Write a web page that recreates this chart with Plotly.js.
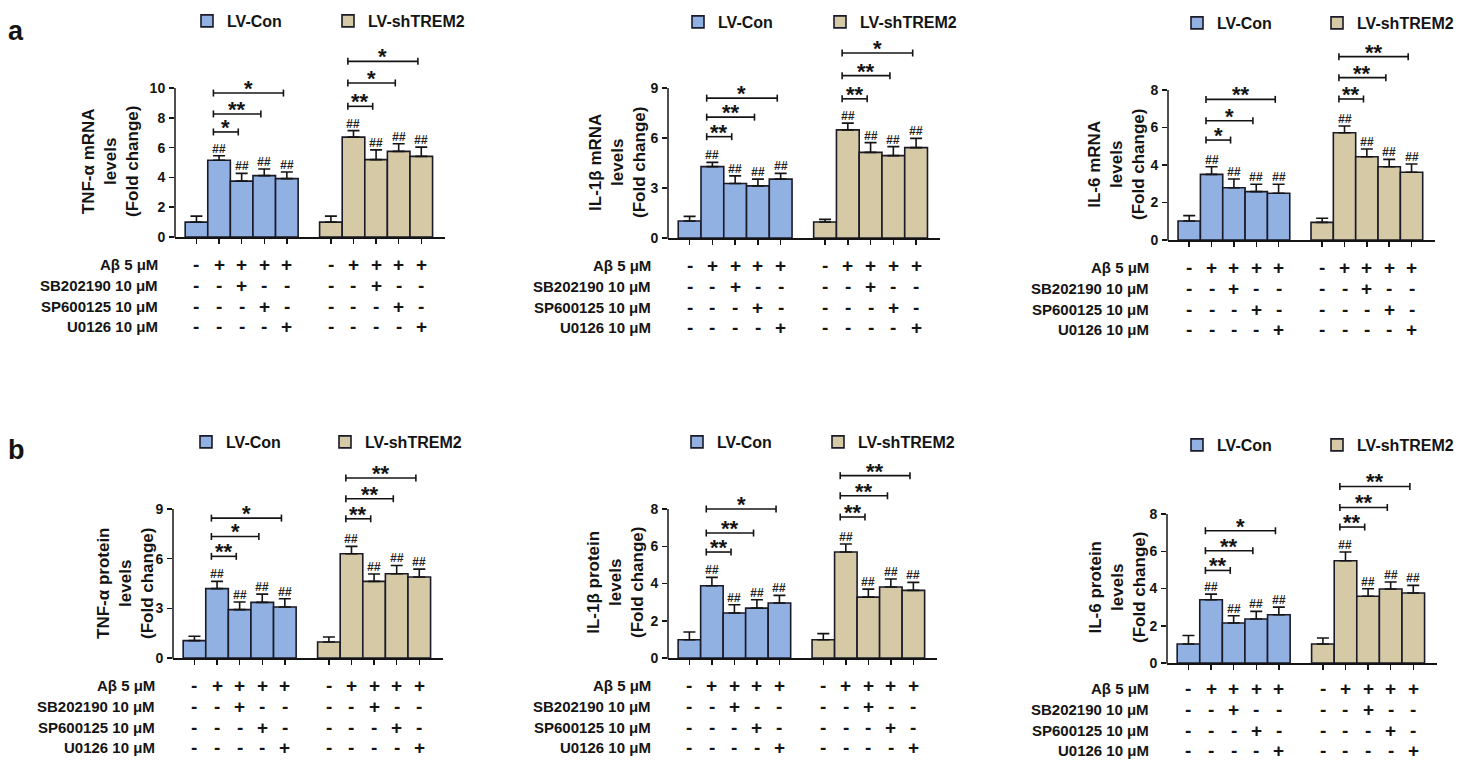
<!DOCTYPE html>
<html><head><meta charset="utf-8">
<script src="https://cdn.plot.ly/plotly-3.0.1.min.js"></script>
<style>html,body{margin:0;padding:0;background:#fff}#chart{width:1481px;height:761px}</style>
</head><body><div id="chart"></div>
<script>
// ---------------- DATA ----------------
const groupNames = ['LV-Con', 'LV-shTREM2'];
const treatmentLabels = ['Aβ 5 μM', 'SB202190 10 μM', 'SP600125 10 μM', 'U0126 10 μM'];
const signAbeta    = ['-', '+', '+', '+', '+'];
const signSB202190 = ['-', '-', '+', '-', '-'];
const signSP600125 = ['-', '-', '-', '+', '-'];
const signU0126    = ['-', '-', '-', '-', '+'];
const hashMarks    = ['', '##', '##', '##', '##'];

const yTitles = [
  'TNF-α mRNA<br>levels<br>(Fold change)',
  'IL-1β mRNA<br>levels<br>(Fold change)',
  'IL-6 mRNA<br>levels<br>(Fold change)',
  'TNF-α protein<br>levels<br>(Fold change)',
  'IL-1β protein<br>levels<br>(Fold change)',
  'IL-6 protein<br>levels<br>(Fold change)'
];
const yTickMax  = [10, 9, 8, 9, 8, 8];
const yTickStep = [2, 3, 2, 3, 2, 2];

// means and SEM (fold change)
const tnfMrnaCon    = [1.00, 5.15, 3.75, 4.12, 3.92];
const tnfMrnaConErr = [0.40, 0.30, 0.52, 0.44, 0.44];
const tnfMrnaSh     = [1.00, 6.70, 5.19, 5.75, 5.41];
const tnfMrnaShErr  = [0.40, 0.44, 0.66, 0.51, 0.62];

const il1bMrnaCon    = [1.02, 4.28, 3.27, 3.13, 3.53];
const il1bMrnaConErr = [0.28, 0.26, 0.46, 0.40, 0.35];
const il1bMrnaSh     = [0.96, 6.49, 5.14, 4.94, 5.42];
const il1bMrnaShErr  = [0.16, 0.40, 0.58, 0.54, 0.56];

const il6MrnaCon    = [1.01, 3.50, 2.79, 2.58, 2.49];
const il6MrnaConErr = [0.29, 0.41, 0.46, 0.39, 0.48];
const il6MrnaSh     = [0.94, 5.72, 4.44, 3.91, 3.61];
const il6MrnaShErr  = [0.22, 0.36, 0.41, 0.39, 0.44];

const tnfProtCon    = [1.05, 4.19, 2.92, 3.36, 3.08];
const tnfProtConErr = [0.26, 0.44, 0.46, 0.50, 0.50];
const tnfProtSh     = [0.97, 6.30, 4.63, 5.09, 4.89];
const tnfProtShErr  = [0.30, 0.44, 0.44, 0.50, 0.48];

const il1bProtCon    = [0.98, 3.88, 2.42, 2.68, 2.95];
const il1bProtConErr = [0.42, 0.45, 0.44, 0.45, 0.41];
const il1bProtSh     = [0.98, 5.69, 3.27, 3.81, 3.63];
const il1bProtShErr  = [0.33, 0.43, 0.43, 0.43, 0.43];

const il6ProtCon    = [1.02, 3.40, 2.15, 2.36, 2.59];
const il6ProtConErr = [0.46, 0.30, 0.39, 0.41, 0.41];
const il6ProtSh     = [1.02, 5.49, 3.58, 3.97, 3.76];
const il6ProtShErr  = [0.32, 0.47, 0.41, 0.38, 0.41];

// significance brackets: from bar index 1 (Aβ alone) to bars 2,3,4
const bracketFrom = 1;
const bracketTo   = [2, 3, 4];
const tnfMrnaConSigY = [7.05, 8.26, 9.66];  const tnfMrnaConSig = ['*', '**', '*'];
const tnfMrnaShSigY  = [8.77, 10.34, 11.79]; const tnfMrnaShSig  = ['**', '*', '*'];
const il1bMrnaConSigY = [6.08, 7.25, 8.39]; const il1bMrnaConSig = ['**', '**', '*'];
const il1bMrnaShSigY  = [8.35, 9.74, 11.10]; const il1bMrnaShSig = ['**', '**', '*'];
const il6MrnaConSigY = [5.33, 6.36, 7.50];  const il6MrnaConSig = ['*', '*', '**'];
const il6MrnaShSigY  = [7.52, 8.66, 9.78];  const il6MrnaShSig  = ['**', '**', '**'];
const tnfProtConSigY = [6.14, 7.34, 8.45];  const tnfProtConSig = ['**', '*', '*'];
const tnfProtShSigY  = [8.41, 9.62, 10.87]; const tnfProtShSig  = ['**', '**', '**'];
const il1bProtConSigY = [5.69, 6.71, 8.00]; const il1bProtConSig = ['**', '**', '*'];
const il1bProtShSigY  = [7.57, 8.71, 9.79]; const il1bProtShSig  = ['**', '**', '**'];
const il6ProtConSigY = [4.97, 6.03, 7.10];  const il6ProtConSig = ['**', '**', '*'];
const il6ProtShSigY  = [7.30, 8.35, 9.48];  const il6ProtShSig  = ['**', '**', '**'];

const panelLetters = ['a', 'b'];

// ---------------- BUILD ----------------
const W = 1481, H = 761;
const FONT = 'Arial, "Liberation Sans", sans-serif';
const INK = '#141414';
const EDGE = '#1a1a28';
const colCon = '#91b1e3', colSh = '#d5c9a6';
const GROUP_SHIFT = 5.95;

const panels = [
  {con: tnfMrnaCon, conErr: tnfMrnaConErr, sh: tnfMrnaSh, shErr: tnfMrnaShErr,
   conSigY: tnfMrnaConSigY, conSig: tnfMrnaConSig, shSigY: tnfMrnaShSigY, shSig: tnfMrnaShSig},
  {con: il1bMrnaCon, conErr: il1bMrnaConErr, sh: il1bMrnaSh, shErr: il1bMrnaShErr,
   conSigY: il1bMrnaConSigY, conSig: il1bMrnaConSig, shSigY: il1bMrnaShSigY, shSig: il1bMrnaShSig},
  {con: il6MrnaCon, conErr: il6MrnaConErr, sh: il6MrnaSh, shErr: il6MrnaShErr,
   conSigY: il6MrnaConSigY, conSig: il6MrnaConSig, shSigY: il6MrnaShSigY, shSig: il6MrnaShSig},
  {con: tnfProtCon, conErr: tnfProtConErr, sh: tnfProtSh, shErr: tnfProtShErr,
   conSigY: tnfProtConSigY, conSig: tnfProtConSig, shSigY: tnfProtShSigY, shSig: tnfProtShSig},
  {con: il1bProtCon, conErr: il1bProtConErr, sh: il1bProtSh, shErr: il1bProtShErr,
   conSigY: il1bProtConSigY, conSig: il1bProtConSig, shSigY: il1bProtShSigY, shSig: il1bProtShSig},
  {con: il6ProtCon, conErr: il6ProtConErr, sh: il6ProtSh, shErr: il6ProtShErr,
   conSigY: il6ProtConSigY, conSig: il6ProtConSig, shSigY: il6ProtShSigY, shSig: il6ProtShSig}
];

// layout geometry in pixels (styles only)
const geom = [
  {xl: 175, xr: 445, y0: 237, yt: 88,  top: 40,  lab: 160, tx: -65, legCon: 187, legSh: 328, legY: 21, tbl: 237},
  {xl: 668, xr: 940, y0: 238, yt: 88,  top: 40,  lab: 653, tx: -51, legCon: 678, legSh: 820, legY: 22, tbl: 238},
  {xl: 1168, xr: 1435, y0: 240, yt: 90, top: 40, lab: 1151, tx: -51, legCon: 1177, legSh: 1317, legY: 23, tbl: 240},
  {xl: 173, xr: 443, y0: 658, yt: 509, top: 455, lab: 157, tx: -48, legCon: 186, legSh: 325, legY: 442, tbl: 658},
  {xl: 668, xr: 937, y0: 658, yt: 509, top: 455, lab: 653, tx: -53, legCon: 677, legSh: 818, legY: 442, tbl: 658},
  {xl: 1167, xr: 1437, y0: 663, yt: 514, top: 455, lab: 1151, tx: -50, legCon: 1177, legSh: 1317, legY: 445, tbl: 661}
];
const rowOffsets = [27, 48, 69, 89];
const signRows = [signAbeta, signSB202190, signSP600125, signU0126];

const px2x = v => v / W;
const px2y = v => 1 - v / H;

const conPos = signAbeta.map((_, i) => i);
const shPos = conPos.map(p => p + GROUP_SHIFT);

const data = [];
const shapes = [];
const annotations = [];
const layout = {
  width: W, height: H,
  margin: {l: 0, r: 0, t: 0, b: 0},
  paper_bgcolor: '#ffffff', plot_bgcolor: 'rgba(0,0,0,0)',
  barmode: 'overlay',
  showlegend: true,
  font: {family: FONT, color: INK},
  shapes: shapes, annotations: annotations
};

panels.forEach((p, k) => {
  const g = geom[k];
  const sfx = k === 0 ? '' : String(k + 1);
  const xa = 'x' + sfx, ya = 'y' + sfx;
  const rangeMax = yTickMax[k] * (g.y0 - g.top) / (g.y0 - g.yt);
  const ticks = [];
  for (let t = 0; t <= yTickMax[k] + 1e-9; t += yTickStep[k]) ticks.push(t);

  layout['xaxis' + sfx] = {
    domain: [px2x(g.xl), px2x(g.xr)], anchor: ya, range: [-0.95, 11.0],
    showline: true, linecolor: INK, linewidth: 1.5, showgrid: false, zeroline: false,
    ticks: 'outside', ticklen: 5, tickwidth: 1.5, tickcolor: INK,
    tickvals: conPos.concat(shPos), showticklabels: false, fixedrange: true
  };
  layout['yaxis' + sfx] = {
    domain: [px2y(g.y0), px2y(g.top)], anchor: xa, range: [0, rangeMax],
    showline: false, showgrid: false, zeroline: false,
    ticks: 'outside', ticklen: 5, tickwidth: 1.5, tickcolor: INK,
    tickvals: ticks, ticktext: ticks.map(String),
    tickfont: {family: FONT, size: 14, weight: 'bold', color: INK}, ticklabelstandoff: 1,
    fixedrange: true
  };
  // y axis line (only up to top tick)
  shapes.push({type: 'line', xref: 'paper', yref: 'paper',
    x0: px2x(g.xl), x1: px2x(g.xl), y0: px2y(g.y0 + 0.75), y1: px2y(g.yt),
    line: {color: INK, width: 1.5}});

  const legCon = k === 0 ? 'legend' : 'legend' + (2 * k + 1);
  const legSh = 'legend' + (2 * k + 2);
  [[legCon, g.legCon], [legSh, g.legSh]].forEach(([key, lx]) => {
    layout[key] = {x: px2x(lx), xanchor: 'left', y: px2y(g.legY), yanchor: 'middle',
      orientation: 'h', bgcolor: 'rgba(0,0,0,0)', borderwidth: 0, itemwidth: 30,
      font: {family: FONT, size: 16, weight: 'bold', color: INK}};
  });

  const groups = [
    {name: groupNames[0], pos: conPos, val: p.con, err: p.conErr, col: colCon, leg: legCon, sigY: p.conSigY, sig: p.conSig},
    {name: groupNames[1], pos: shPos, val: p.sh, err: p.shErr, col: colSh, leg: legSh, sigY: p.shSigY, sig: p.shSig}
  ];
  groups.forEach(gr => {
    data.push({
      type: 'bar', name: gr.name, x: gr.pos, y: gr.val, width: 1,
      xaxis: xa, yaxis: ya, legend: gr.leg, showlegend: true,
      marker: {color: gr.col, line: {color: EDGE, width: 1.6}},
      error_y: {type: 'data', symmetric: false, array: gr.err, arrayminus: gr.err.map(() => 0),
        color: INK, thickness: 1.6, width: 6},
      hoverinfo: 'skip'
    });
    // ## marks
    gr.pos.forEach((x, i) => {
      if (!hashMarks[i]) return;
      annotations.push({xref: xa, yref: ya, x: x, y: gr.val[i] + gr.err[i], yanchor: 'bottom',
        yshift: -2, text: hashMarks[i], showarrow: false,
        font: {family: FONT, size: 12, weight: 'bold', style: 'italic', color: '#222'}});
    });
    // significance brackets
    bracketTo.forEach((to, j) => {
      const xs = gr.pos[bracketFrom] - 0.25, xe = gr.pos[to] - 0.15, yv = gr.sigY[j];
      shapes.push({type: 'line', xref: xa, yref: ya, x0: xs, x1: xe, y0: yv, y1: yv,
        line: {color: INK, width: 1.6}});
      [xs, xe].forEach(xc => shapes.push({type: 'line', xref: xa, yref: ya, ysizemode: 'pixel',
        yanchor: yv, y0: -3.5, y1: 3.5, x0: xc, x1: xc, line: {color: INK, width: 1.6}}));
      annotations.push({xref: xa, yref: ya, x: (xs + xe) / 2, y: yv, yanchor: 'bottom', yshift: -10,
        text: gr.sig[j], showarrow: false,
        font: {family: FONT, size: 22, weight: 'bold', color: INK}});
    });
    // treatment sign table
    signRows.forEach((row, r) => {
      gr.pos.forEach((x, i) => {
        annotations.push({xref: xa, yref: 'paper', x: x, y: px2y(g.tbl + rowOffsets[r]),
          yanchor: 'middle', height: 18, text: row[i], showarrow: false,
          font: {family: FONT, size: 19, weight: 'bold', color: INK}});
      });
    });
  });
  // row labels
  treatmentLabels.forEach((t, r) => {
    annotations.push({xref: 'paper', yref: 'paper', x: px2x(g.lab), y: px2y(g.tbl + rowOffsets[r]),
      xanchor: 'right', yanchor: 'middle', height: 18, text: t, showarrow: false,
      font: {family: FONT, size: 15, weight: 'bold', color: INK}});
  });
  // y-axis title
  annotations.push({xref: 'paper', yref: 'paper', x: px2x(g.xl + g.tx), y: px2y(g.y0 - 75),
    xanchor: 'center', yanchor: 'middle', textangle: -90, text: yTitles[k], showarrow: false,
    font: {family: FONT, size: 17, weight: 'bold', color: INK}});
});

// panel letters
annotations.push({xref: 'paper', yref: 'paper', x: px2x(16), y: px2y(31), text: panelLetters[0],
  showarrow: false, xanchor: 'center', yanchor: 'middle', font: {family: FONT, size: 27, weight: 'bold', color: INK}});
annotations.push({xref: 'paper', yref: 'paper', x: px2x(16), y: px2y(450), text: panelLetters[1],
  showarrow: false, xanchor: 'center', yanchor: 'middle', font: {family: FONT, size: 27, weight: 'bold', color: INK}});

Plotly.newPlot('chart', data, layout, {displayModeBar: false, staticPlot: true});
</script>
</body></html>
